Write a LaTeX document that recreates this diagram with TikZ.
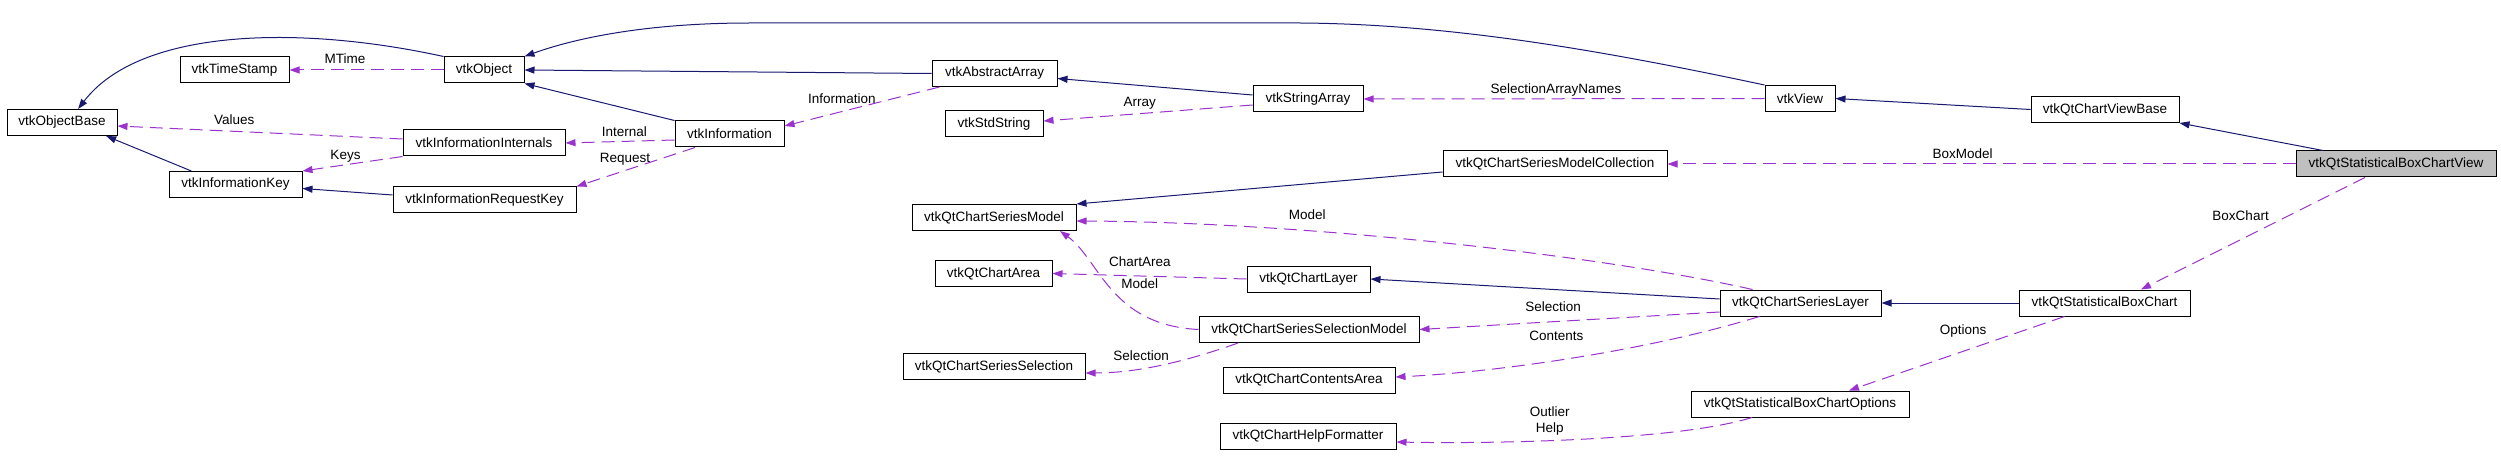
\documentclass[tikz,border=0pt]{standalone}
\usepackage{fontspec}
\setmainfont{Liberation Sans}
\usetikzlibrary{
  arrows.meta,
}
\definecolor{inherit}{RGB}{25,25,112}
\definecolor{usage}{RGB}{154,50,205}
\tikzset{
  >={Triangle[length=10pt,width=7pt]},
}

\begin{document}
\begin{tikzpicture}[
      x=1pt, y=-1pt,
      every node/.style={
        font=\fontsize{13.5}{16}\selectfont,
      },
      cls/.style={draw,
        line width=1pt,
        minimum height=26pt,
        inner sep=0pt,
      },
      focus/.style={cls,
        fill=black!25,
      },
      lbl/.style={
        text=black,
        inner sep=1.5pt,
        text height=10pt,
        text depth=3pt, % same box for every label
      },
      inh/.style={->, color=inherit, line width=1pt},
      use/.style={->, color=usage, line width=1pt, dash pattern=on 13pt off 7pt},
      ]
      \useasboundingbox (0,0) rectangle (2501,465);

      \node[cls, minimum width=110pt] (objbase) at (62,122.5) {vtkObjectBase};
      \node[cls, minimum width=109pt] (stamp) at (234.5,70) {vtkTimeStamp};
      \node[cls, minimum width=133pt] (infokey) at (235.5,184.5) {vtkInformationKey};
      \node[cls, minimum width=80pt] (object) at (484,70) {vtkObject};
      \node[cls, minimum width=162pt] (internals) at (484,143) {vtkInformationInternals};
      \node[cls, minimum width=183pt] (reqkey) at (484.5,200) {vtkInformationRequestKey};
      \node[cls, minimum width=109pt] (info) at (729.5,134) {vtkInformation};
      \node[cls, minimum width=125pt] (absarray) at (994.5,73.5) {vtkAbstractArray};
      \node[cls, minimum width=98pt] (stdstring) at (994,124) {vtkStdString};
      \node[cls, minimum width=110pt] (strarray) at (1308,99) {vtkStringArray};
      \node[cls, minimum width=70pt] (view) at (1800,98.5) {vtkView};
      \node[cls, minimum width=148pt] (viewbase) at (2105,109.5) {vtkQtChartViewBase};
      \node[focus, minimum width=200pt] (boxview) at (2396,164) {vtkQtStatisticalBoxChartView};
      \node[cls, minimum width=224pt] (collection) at (1555,164) {vtkQtChartSeriesModelCollection};
      \node[cls, minimum width=164pt] (seriesmodel) at (994,217.5) {vtkQtChartSeriesModel};
      \node[cls, minimum width=117pt] (chartarea) at (993.5,273.5) {vtkQtChartArea};
      \node[cls, minimum width=123pt] (chartlayer) at (1308.5,279) {vtkQtChartLayer};
      \node[cls, minimum width=220pt] (selmodel) at (1309,329.5) {vtkQtChartSeriesSelectionModel};
      \node[cls, minimum width=182pt] (seriessel) at (994,366.5) {vtkQtChartSeriesSelection};
      \node[cls, minimum width=172pt] (contents) at (1309,380) {vtkQtChartContentsArea};
      \node[cls, minimum width=176pt] (helpfmt) at (1308,436) {vtkQtChartHelpFormatter};
      \node[cls, minimum width=161pt] (serieslayer) at (1800.5,303) {vtkQtChartSeriesLayer};
      \node[cls, minimum width=171pt] (boxchart) at (2104.5,303) {vtkQtStatisticalBoxChart};
      \node[cls, minimum width=218pt] (options) at (1800,404) {vtkQtStatisticalBoxChartOptions};

      \path[inh]
      (absarray.west) edge (object.east)
      (info.north west) edge (object.south east)
      (infokey.163) edge (objbase.-17)
      ([yshift=5pt]reqkey.west) edge ([yshift=-4pt]infokey.east)
      ([yshift=4pt]strarray.west) edge ([yshift=-5pt]absarray.east)
      (viewbase.west) edge (view.east)
      ([xshift=-73pt]boxview.north) edge (viewbase.south east)
      ([yshift=-8pt]collection.west) edge (seriesmodel.north east)
      ([yshift=4pt]serieslayer.west) edge (chartlayer.east)
      (boxchart.west) edge (serieslayer.east)
      ;
      \draw[inh] (object.north west) .. controls (300,25) and (140,28) .. (objbase.40);
      \draw[inh] (view.north west) .. controls (1600,50) and (1450,24) .. (1300,23)
        -- (750,23) .. controls (640,23) and (570,40) .. (object.north east);

      \path[use]
      (object.west) edge node[lbl, pos=0.64, above=1pt] {MTime} (stamp.east)
      ([yshift=4pt]internals.west) edge node[lbl, pos=0.59, above=2pt] {Values} ([yshift=-3.5pt]objbase.east)
      (internals.south west) edge node[lbl, pos=0.57, above] {Keys} (infokey.north east)
      ([yshift=-6pt]info.west) edge node[lbl, pos=0.46, above] {Internal} (internals.east)
      ([xshift=-34.5pt]info.south) edge node[lbl, pos=0.59, above=3pt] {Request} (reqkey.north east)
      ([xshift=8pt]absarray.south west) edge node[lbl, pos=0.63, above=3pt] {Information} ([yshift=8pt]info.east)
      ([yshift=-6pt]strarray.west) edge node[lbl, pos=0.54, above=2pt] {Array} ([yshift=3pt]stdstring.east)
      (view.west) edge node[lbl, pos=0.52, above] {SelectionArrayNames} (strarray.east)
      (boxview.west) edge node[lbl, pos=0.53, above] {BoxModel} (collection.east)
      ([xshift=-31pt]boxview.south) edge node[lbl, pos=0.35, xshift=-46pt] {BoxChart} ([xshift=36.5pt]boxchart.north)
      ([xshift=-40pt]boxchart.south) edge node[lbl, pos=0.47, yshift=20pt] {Options} ([xshift=49pt]options.north)
      (chartlayer.west) edge node[lbl, pos=0.55, above=4pt] {ChartArea} (chartarea.east)
      ([yshift=-9pt]serieslayer.west) edge node[lbl, pos=0.555, above=5.5pt] {Selection} (selmodel.east)
      ;
      \draw[use] ([xshift=-48pt]serieslayer.north) .. controls (1600,255) and (1300,222) ..
        ([yshift=-3.5pt]seriesmodel.east) node[lbl, pos=0.68, yshift=15pt] {Model};
      \draw[use] (selmodel.west) .. controls (1110,325) and (1100,260) ..
        ([xshift=66pt]seriesmodel.south) node[lbl, pos=0.55, xshift=34pt, yshift=-2pt] {Model};
      \draw[use] ([xshift=-41pt]serieslayer.south) .. controls (1650,350) and (1500,372) ..
        ([yshift=3pt]contents.east) node[lbl, pos=0.55, yshift=23pt] {Contents};
      \draw[use] ([xshift=-71pt]selmodel.south) .. controls (1190,360) and (1140,373) ..
        ([yshift=-6.5pt]seriessel.east) node[lbl, pos=0.65, yshift=12pt] {Selection};
      \draw[use] ([xshift=-48pt]options.south) .. controls (1680,440) and (1500,444) ..
        ([yshift=-6pt]helpfmt.east) node[text=black, inner sep=1.5pt, align=center, pos=0.59, yshift=20pt] {Outlier\\Help};
    \end{tikzpicture}
\end{document}
